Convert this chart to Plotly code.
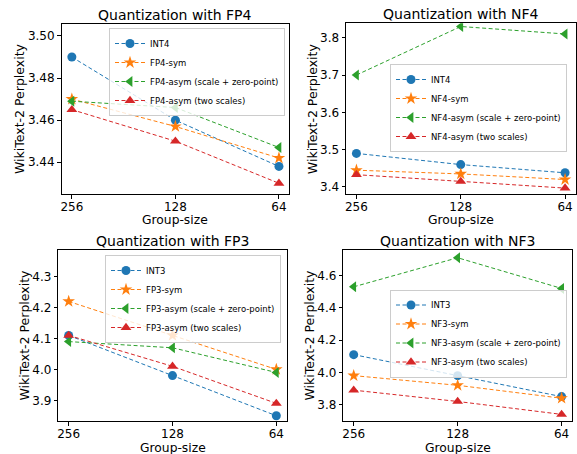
import plotly.graph_objects as go

W, H = 577, 454

group_sizes = ["256", "128", "64"]

fp4_int = [3.49, 3.46, 3.438]
fp4_sym = [3.47, 3.457, 3.442]
fp4_asym_zp = [3.469, 3.466, 3.447]
fp4_asym_two = [3.465, 3.45, 3.43]

nf4_int = [3.49, 3.46, 3.438]
nf4_sym = [3.445, 3.435, 3.42]
nf4_asym_zp = [3.70, 3.83, 3.81]
nf4_asym_two = [3.433, 3.415, 3.397]

fp3_int = [4.11, 3.98, 3.85]
fp3_sym = [4.22, 4.11, 4.00]
fp3_asym_zp = [4.09, 4.07, 3.99]
fp3_asym_two = [4.11, 4.01, 3.89]

nf3_int = [4.11, 3.98, 3.85]
nf3_sym = [3.98, 3.92, 3.84]
nf3_asym_zp = [4.53, 4.71, 4.52]
nf3_asym_two = [3.89, 3.82, 3.74]

titles = ["Quantization with FP4", "Quantization with NF4",
          "Quantization with FP3", "Quantization with NF3"]

colors = ["#1f77b4", "#ff7f0e", "#2ca02c", "#d62728"]
symbols = ["circle", "star", "triangle-left", "triangle-up"]
msizes = [9, 9.5, 9.5, 9.5]

panels = [
    dict(fmt="FP4", base="INT4", series=[fp4_int, fp4_sym, fp4_asym_zp, fp4_asym_two],
         px_x=(61.5, 289.3), px_y=(24, 194), yr=(3.4249, 3.5057), dtick=0.02, tf=".2f",
         leg=dict(x=285, y=28, xanchor="right", yanchor="top"), ylab_x=20),
    dict(fmt="NF4", base="INT4", series=[nf4_int, nf4_sym, nf4_asym_zp, nf4_asym_two],
         px_x=(346, 575.5), px_y=(23.3, 194), yr=(3.3812, 3.8386), dtick=0.1, tf=".1f",
         leg=dict(x=567, y=108, xanchor="right", yanchor="middle"), ylab_x=312.5),
    dict(fmt="FP3", base="INT3", series=[fp3_int, fp3_sym, fp3_asym_zp, fp3_asym_two],
         px_x=(58.3, 286.7), px_y=(250, 421), yr=(3.833, 4.3864), dtick=0.1, tf=".1f",
         leg=dict(x=281, y=255, xanchor="right", yanchor="top"), ylab_x=24),
    dict(fmt="NF3", base="INT3", series=[nf3_int, nf3_sym, nf3_asym_zp, nf3_asym_two],
         px_x=(343.3, 572), px_y=(250, 421), yr=(3.699, 4.758), dtick=0.2, tf=".1f",
         leg=dict(x=567, y=333.5, xanchor="right", yanchor="middle"), ylab_x=309),
]

def fx(p):
    return p / W

def fy(p):
    return 1 - p / H

fig = go.Figure()
layout = dict(width=W, height=H, margin=dict(l=0, r=0, t=0, b=0),
              paper_bgcolor="white", plot_bgcolor="white",
              font=dict(family="DejaVu Sans", color="black", size=12),
              showlegend=True)
annotations = []

for i, p in enumerate(panels):
    k = "" if i == 0 else str(i + 1)
    legname = "legend" + k
    names = [p["base"], p["fmt"] + "-sym",
             p["fmt"] + "-asym (scale + zero-point)", p["fmt"] + "-asym (two scales)"]
    for j, vals in enumerate(p["series"]):
        fig.add_trace(go.Scatter(
            x=group_sizes, y=vals, name=names[j], mode="lines+markers",
            xaxis="x" + k, yaxis="y" + k, legend=legname,
            line=dict(color=colors[j], width=1, dash="4px,2.5px"),
            marker=dict(color=colors[j], symbol=symbols[j], size=msizes[j],
                        line=dict(width=0)),
        ))
    ax = dict(domain=[fx(p["px_x"][0]), fx(p["px_x"][1])], anchor="y" + k,
              type="category", range=[-0.1, 2.1],
              showline=True, mirror=True, linecolor="black", linewidth=1,
              ticks="outside", ticklen=3.5, tickwidth=1, tickcolor="black",
              ticklabelstandoff=-2,
              showgrid=False, zeroline=False, tickfont=dict(size=12))
    ay = dict(domain=[fy(p["px_y"][1]), fy(p["px_y"][0])], anchor="x" + k,
              range=list(p["yr"]), dtick=p["dtick"], tick0=0, tickformat=p["tf"],
              showline=True, mirror=True, linecolor="black", linewidth=1,
              ticks="outside", ticklen=3.5, tickwidth=1, tickcolor="black",
              showgrid=False, zeroline=False, tickfont=dict(size=12))
    layout["xaxis" + k] = ax
    layout["yaxis" + k] = ay
    lg = p["leg"]
    layout[legname] = dict(x=fx(lg["x"]), y=fy(lg["y"]), xanchor=lg["xanchor"],
                           yanchor=lg["yanchor"], bgcolor="rgba(255,255,255,0.8)",
                           bordercolor="#cccccc", borderwidth=1,
                           font=dict(size=8.5, family="DejaVu Sans"),
                           itemwidth=30, tracegroupgap=0)
    cx = (p["px_x"][0] + p["px_x"][1]) / 2
    cy = (p["px_y"][0] + p["px_y"][1]) / 2
    annotations.append(dict(text=titles[i], x=fx(cx), y=fy(p["px_y"][0]),
                            xref="paper", yref="paper", xanchor="center", yanchor="bottom",
                            showarrow=False, font=dict(size=14), yshift=-1))
    annotations.append(dict(text="Group-size", x=fx(cx), y=fy(p["px_y"][1] + 26.5),
                            xref="paper", yref="paper", xanchor="center", yanchor="middle",
                            showarrow=False, font=dict(size=12.3)))
    annotations.append(dict(text="WikiText-2 Perplexity", x=fx(p["ylab_x"]), y=fy(cy),
                            xref="paper", yref="paper", xanchor="center", yanchor="middle",
                            textangle=-90, showarrow=False, font=dict(size=12.5)))

layout["annotations"] = annotations
fig.update_layout(**layout)
fig.write_html("out.html", config={"displayModeBar": False},
               post_script="document.body.style.margin='0';document.body.style.overflow='hidden';")
